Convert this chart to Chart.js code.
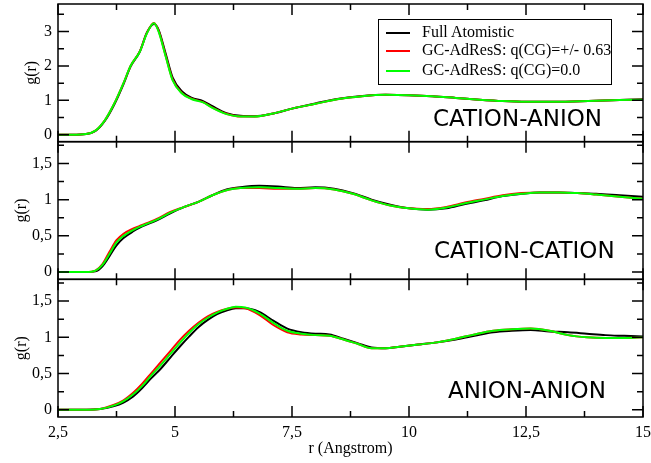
<!DOCTYPE html>
<html>
<head>
<meta charset="utf-8">
<script src="https://cdn.jsdelivr.net/npm/chart.js@4/dist/chart.umd.min.js"></script>
<style>
  html, body { margin: 0; padding: 0; background: #fff; }
  #wrap { position: relative; width: 651px; height: 463px; overflow: hidden; }
  #c { position: absolute; left: 0; top: 0; }
  .plabel { position: absolute; font-family: "DejaVu Sans", sans-serif; font-size: 23px; line-height: 23px; color: #000; white-space: nowrap; }
  #legend { position: absolute; left: 378px; top: 19px; width: 232px; height: 64px; border: 1px solid #000; background: #fff; }
  .lrow { position: absolute; left: 0; height: 16px; }
  .lline { position: absolute; left: 7px; width: 24px; height: 2px; }
  .ltext { position: absolute; left: 43px; font-family: "Liberation Serif", "Times New Roman", serif; font-size: 16px; line-height: 16px; white-space: nowrap; color: #000; }
</style>
</head>
<body>
<div id="wrap">
  <canvas id="c" width="651" height="463"></canvas>
  <div id="legend"></div>
  <div class="plabel" style="left:433px; top:107px;">CATION-ANION</div>
  <div class="plabel" style="left:434px; top:239px;">CATION-CATION</div>
  <div class="plabel" style="left:448px; top:379px;">ANION-ANION</div>
</div>
<script>
// ---------- data ----------
const seriesNames = ["Full Atomistic", "GC-AdResS: q(CG)=+/- 0.63", "GC-AdResS: q(CG)=0.0"];
const seriesColors = ["#000000", "#ff0000", "#00ff00"];

// CATION-ANION
const rCA = [2.5, 2.8, 3.1, 3.3, 3.5, 3.7, 3.9, 4.05, 4.25, 4.4, 4.55, 4.65, 4.8, 4.95, 5.15, 5.35, 5.6, 5.8, 6.1, 6.4, 6.7, 7.1, 7.5, 8.0, 8.5, 9.0, 9.5, 10.0, 10.5, 11.0, 11.5, 12.0, 12.5, 13.0, 13.5, 14.0, 14.5, 15.0];
const caFull = [0, 0, 0.02, 0.11, 0.4, 0.87, 1.47, 1.98, 2.42, 2.97, 3.22, 3.05, 2.36, 1.66, 1.26, 1.08, 0.98, 0.83, 0.63, 0.55, 0.54, 0.62, 0.76, 0.91, 1.05, 1.13, 1.16, 1.15, 1.12, 1.07, 1.02, 0.98, 0.96, 0.96, 0.97, 0.99, 1.01, 1.03];
const caQ063 = [0, 0, 0.02, 0.12, 0.42, 0.9, 1.5, 2.0, 2.43, 2.96, 3.25, 3.02, 2.3, 1.6, 1.21, 1.05, 0.95, 0.79, 0.61, 0.53, 0.53, 0.62, 0.76, 0.9, 1.04, 1.12, 1.16, 1.15, 1.12, 1.07, 1.02, 0.98, 0.96, 0.96, 0.97, 0.99, 1.01, 1.02];
const caQ0 = [0, 0, 0.02, 0.12, 0.42, 0.9, 1.5, 2.0, 2.42, 2.95, 3.24, 3.0, 2.28, 1.58, 1.2, 1.04, 0.94, 0.78, 0.6, 0.53, 0.53, 0.62, 0.76, 0.9, 1.04, 1.12, 1.16, 1.15, 1.12, 1.07, 1.02, 0.98, 0.96, 0.96, 0.97, 0.99, 1.01, 1.02];

// CATION-CATION
const rCC = [2.5, 2.8, 3.1, 3.3, 3.45, 3.6, 3.75, 3.9, 4.1, 4.3, 4.6, 4.9, 5.2, 5.5, 5.8, 6.1, 6.4, 6.8, 7.2, 7.6, 8.0, 8.4, 8.8, 9.2, 9.6, 10.0, 10.4, 10.8, 11.2, 11.6, 12.0, 12.4, 12.8, 13.2, 13.6, 14.0, 14.5, 15.0];
const ccFull = [0, 0, 0, 0.01, 0.08, 0.22, 0.37, 0.47, 0.56, 0.63, 0.71, 0.81, 0.9, 0.97, 1.06, 1.14, 1.17, 1.19, 1.18, 1.16, 1.17, 1.15, 1.09, 1.0, 0.93, 0.88, 0.86, 0.88, 0.94, 0.99, 1.05, 1.08, 1.1, 1.1, 1.09, 1.08, 1.06, 1.04];
const ccQ063 = [0, 0, 0, 0.02, 0.11, 0.28, 0.44, 0.53, 0.6, 0.65, 0.73, 0.83, 0.9, 0.97, 1.06, 1.13, 1.16, 1.16, 1.15, 1.15, 1.16, 1.14, 1.08, 0.99, 0.92, 0.88, 0.87, 0.9, 0.96, 1.01, 1.06, 1.09, 1.1, 1.1, 1.09, 1.07, 1.04, 1.01];
const ccQ0 = [0, 0, 0, 0.02, 0.1, 0.25, 0.41, 0.5, 0.58, 0.64, 0.72, 0.82, 0.9, 0.97, 1.06, 1.13, 1.16, 1.17, 1.16, 1.15, 1.16, 1.14, 1.08, 0.99, 0.92, 0.88, 0.86, 0.89, 0.95, 1.0, 1.05, 1.08, 1.1, 1.1, 1.09, 1.07, 1.04, 1.01];

// ANION-ANION
const rAA = [2.5, 2.8, 3.1, 3.4, 3.7, 3.9, 4.1, 4.3, 4.5, 4.7, 4.9, 5.1, 5.3, 5.5, 5.7, 5.9, 6.1, 6.3, 6.5, 6.8, 7.1, 7.4, 7.7, 8.0, 8.3, 8.6, 8.9, 9.2, 9.5, 9.8, 10.2, 10.6, 11.0, 11.4, 11.8, 12.2, 12.6, 13.0, 13.4, 13.8, 14.2, 14.6, 15.0];
const aaFull = [0, 0, 0, 0.01, 0.05, 0.1, 0.18, 0.3, 0.44, 0.57, 0.72, 0.87, 1.01, 1.14, 1.24, 1.32, 1.37, 1.4, 1.4, 1.35, 1.23, 1.12, 1.07, 1.05, 1.04, 0.98, 0.92, 0.86, 0.85, 0.87, 0.9, 0.93, 0.97, 1.02, 1.07, 1.09, 1.1, 1.08, 1.07, 1.05, 1.03, 1.02, 1.01];
const aaQ063 = [0, 0, 0, 0.01, 0.07, 0.13, 0.23, 0.36, 0.51, 0.66, 0.81, 0.96, 1.09, 1.2, 1.29, 1.35, 1.39, 1.41, 1.4, 1.31, 1.17, 1.07, 1.04, 1.03, 1.02, 0.97, 0.91, 0.85, 0.85, 0.87, 0.9, 0.93, 0.98, 1.04, 1.09, 1.11, 1.12, 1.09, 1.03, 1.0, 0.99, 0.99, 1.0];
const aaQ0 = [0, 0, 0, 0.01, 0.06, 0.12, 0.21, 0.33, 0.48, 0.62, 0.77, 0.92, 1.06, 1.18, 1.27, 1.34, 1.39, 1.42, 1.41, 1.33, 1.2, 1.09, 1.05, 1.03, 1.02, 0.97, 0.91, 0.85, 0.85, 0.87, 0.9, 0.93, 0.98, 1.04, 1.09, 1.11, 1.12, 1.09, 1.03, 1.0, 0.99, 0.99, 1.0];

// axis ticks
const xMajorTicks = [2.5, 5, 7.5, 10, 12.5, 15];
const xMinorTicks = [3.75, 6.25, 8.75, 11.25, 13.75];
const caMajorTicks = [0, 1, 2, 3];
const caMinorTicks = [0.5, 1.5, 2.5, 3.5];
const ccMajorTicks = [0, 0.5, 1, 1.5];
const ccMinorTicks = [0.25, 0.75, 1.25, 1.75];
const aaMajorTicks = [0, 0.5, 1, 1.5];
const aaMinorTicks = [0.25, 0.75, 1.25, 1.75];

// ---------- chart ----------
const fmt = v => String(v).replace('.', ',');
const serif = "'Liberation Serif', 'Times New Roman', serif";

function mk(r, ys, axis, idx) {
  return {
    label: seriesNames[idx],
    data: r.map((x, i) => ({x: x, y: ys[i]})),
    yAxisID: axis,
    order: 2 - idx,
    borderColor: seriesColors[idx],
    backgroundColor: seriesColors[idx],
    borderWidth: 2,
    pointRadius: 0,
    fill: false,
    cubicInterpolationMode: 'monotone'
  };
}

const datasets = [
  mk(rAA, aaFull, 'yAA', 0), mk(rAA, aaQ063, 'yAA', 1), mk(rAA, aaQ0, 'yAA', 2),
  mk(rCC, ccFull, 'yCC', 0), mk(rCC, ccQ063, 'yCC', 1), mk(rCC, ccQ0, 'yCC', 2),
  mk(rCA, caFull, 'yCA', 0), mk(rCA, caQ063, 'yCA', 1), mk(rCA, caQ0, 'yCA', 2)
];

function yScale(min, max, majors, weight, titlePad) {
  return {
    type: 'linear', position: 'left', stack: 'panels', stackWeight: 1, weight: weight,
    min: min, max: max, offset: false,
    grid: { display: false, drawTicks: false },
    border: { display: false },
    afterBuildTicks: s => { s.ticks = majors.map(v => ({value: v})); },
    afterFit: s => { s.width = 58; s.paddingTop = 0; s.paddingBottom = 0; },
    ticks: { color: '#000', padding: 6, font: { family: serif, size: 16 }, callback: v => fmt(v) },
    title: { display: true, text: 'g(r)', color: '#000', font: { family: serif, size: 16 }, padding: { top: titlePad, bottom: 0 } }
  };
}

const panelTicks = {
  yCA: [caMajorTicks, caMinorTicks],
  yCC: [ccMajorTicks, ccMinorTicks],
  yAA: [aaMajorTicks, aaMinorTicks]
};

const framePlugin = {
  id: 'frames',
  afterDatasetsDraw(chart) {
    const ctx = chart.ctx;
    const xs = chart.scales.x;
    const L = chart.chartArea.left, R = chart.chartArea.right;
    ctx.save();
    ctx.strokeStyle = '#000';
    ctx.lineWidth = 1.5;
    for (const id of ['yCA', 'yCC', 'yAA']) {
      const s = chart.scales[id];
      const T = s.top, B = s.bottom;
      ctx.strokeRect(L, T, R - L, B - T);
      ctx.beginPath();
      const [maj, mnr] = panelTicks[id];
      for (const v of maj) {
        const y = s.getPixelForValue(v);
        ctx.moveTo(L, y); ctx.lineTo(L + 11, y);
        ctx.moveTo(R, y); ctx.lineTo(R - 11, y);
      }
      for (const v of mnr) {
        const y = s.getPixelForValue(v);
        ctx.moveTo(L, y); ctx.lineTo(L + 6, y);
        ctx.moveTo(R, y); ctx.lineTo(R - 6, y);
      }
      for (const v of xMajorTicks) {
        const x = xs.getPixelForValue(v);
        ctx.moveTo(x, T); ctx.lineTo(x, T + 11);
        ctx.moveTo(x, B); ctx.lineTo(x, B - 11);
      }
      for (const v of xMinorTicks) {
        const x = xs.getPixelForValue(v);
        ctx.moveTo(x, T); ctx.lineTo(x, T + 6);
        ctx.moveTo(x, B); ctx.lineTo(x, B - 6);
      }
      ctx.stroke();
    }
    ctx.restore();
  }
};

new Chart(document.getElementById('c'), {
  type: 'line',
  data: { datasets: datasets },
  plugins: [framePlugin],
  options: {
    responsive: false,
    animation: false,
    events: [],
    layout: { padding: { top: 4, right: 8, left: 0, bottom: 0 } },
    plugins: { legend: { display: false }, tooltip: { enabled: false } },
    scales: {
      x: {
        type: 'linear', position: 'bottom', min: 2.5, max: 15,
        grid: { display: false, drawTicks: false },
        border: { display: false },
        afterBuildTicks: s => { s.ticks = xMajorTicks.map(v => ({value: v})); },
        afterFit: s => { s.height = 46; s.paddingLeft = 0; s.paddingRight = 0; },
        ticks: { color: '#000', padding: 6, maxRotation: 0, font: { family: serif, size: 16 }, callback: v => fmt(v) },
        title: { display: true, text: 'r (Angstrom)', color: '#000', font: { family: serif, size: 16 }, padding: { top: 0, bottom: 5 } }
      },
      yAA: yScale(-0.1, 1.8, aaMajorTicks, 1, 12),
      yCC: yScale(-0.1, 1.8, ccMajorTicks, 2, 12),
      yCA: yScale(-0.2, 3.8, caMajorTicks, 3, 22)
    }
  }
});

// legend (HTML text)
const legend = document.getElementById('legend');
const rowTops = [4, 22, 42];
seriesNames.forEach((name, i) => {
  const row = document.createElement('div');
  row.className = 'lrow';
  row.style.top = rowTops[i] + 'px';
  const line = document.createElement('div');
  line.className = 'lline';
  line.style.background = seriesColors[i];
  line.style.top = '8px';
  const txt = document.createElement('div');
  txt.className = 'ltext';
  txt.style.top = '0px';
  txt.textContent = name;
  row.appendChild(line); row.appendChild(txt);
  legend.appendChild(row);
});
</script>
</body>
</html>
